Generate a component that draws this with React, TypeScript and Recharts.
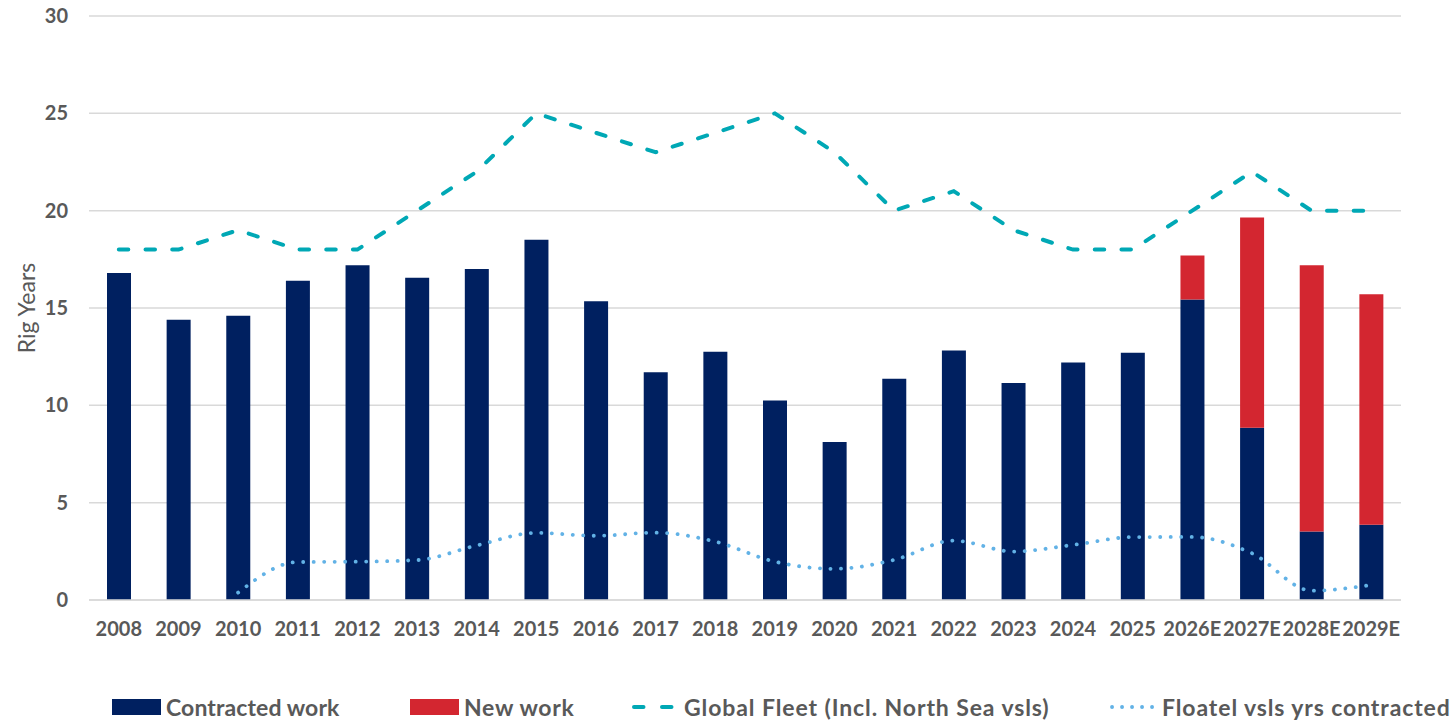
import React from 'react';
import { ComposedChart, Bar, Line, XAxis, YAxis, CartesianGrid, Legend } from 'recharts';

const categories = ['2008','2009','2010','2011','2012','2013','2014','2015','2016','2017','2018','2019','2020','2021','2022','2023','2024','2025','2026E','2027E','2028E','2029E'];
const contractedWork = [16.8,14.4,14.6,16.4,17.2,16.55,17.0,18.5,15.35,11.7,12.75,10.25,8.12,11.37,12.82,11.15,12.2,12.7,15.44,8.85,3.52,3.86];
const newWork = [0,0,0,0,0,0,0,0,0,0,0,0,0,0,0,0,0,0,2.26,10.8,13.68,11.84];
const globalFleet = [18,18,19,18,18,20,22,25,24,23,24,25,23,20,21,19,18,18,20,22,20,20];
const floatelYears: (number | null)[] = [null,null,0.38,1.95,1.97,2.05,2.8,3.45,3.3,3.46,3.0,1.97,1.6,2.06,3.05,2.49,2.83,3.23,3.24,2.4,0.48,0.77];
const yTicks = [0,5,10,15,20,25,30];

const seriesNames = ['Contracted work','New work','Global Fleet (Incl. North Sea vsls)','Floatel vsls yrs contracted'];

const NAVY = '#002060';
const RED = '#D32630';
const TEAL = '#00A8B5';
const LIGHTBLUE = '#62B2E6';
const FONT = 'Lato, "Open Sans", sans-serif';

const data = categories.map((c, i) => ({
  cat: c,
  contracted: contractedWork[i],
  newWork: newWork[i],
  fleet: globalFleet[i],
  floatel: floatelYears[i],
}));

const legendX = [112, 410, 630, 1108];
const legendSpacing = [0.1, 0.7, 0.9, 0.9];

const LegendContent = () => {
  const items = [
    { name: seriesNames[0], type: 'rect', color: NAVY },
    { name: seriesNames[1], type: 'rect', color: RED },
    { name: seriesNames[2], type: 'dash', color: TEAL },
    { name: seriesNames[3], type: 'dot', color: LIGHTBLUE },
  ];
  return (
    <div style={{ position: 'relative', height: 30, width: 1450, fontFamily: FONT, fontWeight: 700, fontSize: 23, color: '#595959' }}>
      {items.map((it, i) => (
        <div key={it.name} style={{ position: 'absolute', left: legendX[i], top: 0, height: 30, display: 'flex', alignItems: 'center' }}>
          <svg width={49} height={16} style={{ marginRight: 5, display: 'block' }}>
            {it.type === 'rect' && <rect x={0} y={0} width={49} height={16} fill={it.color} />}
            {it.type === 'dash' && <line x1={4} y1={8} x2={44} y2={8} stroke={it.color} strokeWidth={4} strokeDasharray="9.5 18.5" strokeLinecap="round" />}
            {it.type === 'dot' && <line x1={4} y1={8} x2={45} y2={8} stroke={it.color} strokeWidth={3.8} strokeDasharray="0.1 9.9" strokeLinecap="round" />}
          </svg>
          <span style={{ whiteSpace: 'nowrap', lineHeight: '30px', letterSpacing: legendSpacing[i] }}>{it.name}</span>
        </div>
      ))}
    </div>
  );
};

export default function App() {
  return (
    <div style={{ position: 'absolute', left: 0, top: 0, width: 1450, height: 721, background: '#fff' }}>
      <ComposedChart width={1450} height={721} data={data} margin={{ top: 16, right: 49, bottom: 61, left: 0 }} barSize={24}>
        <CartesianGrid vertical={false} stroke="#D9D9D9" strokeWidth={1.5} />
        <XAxis
          dataKey="cat"
          axisLine={{ stroke: '#D9D9D9', strokeWidth: 1.5 }}
          tickLine={false}
          tickMargin={16}
          interval={0}
          tick={{ fontFamily: FONT, fontSize: 20, fontWeight: 700, fill: '#595959' }}
        />
        <YAxis
          width={89}
          domain={[0, 30]}
          ticks={yTicks}
          axisLine={false}
          tickLine={false}
          tickMargin={15}
          tick={{ fontFamily: FONT, fontSize: 20, fontWeight: 700, fill: '#595959' }}
          label={{ value: 'Rig Years', angle: -90, position: 'insideLeft', offset: 27, style: { fontFamily: FONT, fontSize: 23, fill: '#595959', textAnchor: 'middle' } }}
        />
        <Legend verticalAlign="bottom" wrapperStyle={{ position: 'absolute', top: 692, left: 0, width: 1450, height: 30 }} content={<LegendContent />} />
        <Bar dataKey="contracted" name={seriesNames[0]} stackId="a" fill={NAVY} isAnimationActive={false} />
        <Bar dataKey="newWork" name={seriesNames[1]} stackId="a" fill={RED} isAnimationActive={false} />
        <Line dataKey="fleet" name={seriesNames[2]} type="linear" stroke={TEAL} strokeWidth={4} strokeDasharray="9.5 17.2" strokeLinecap="round" dot={false} activeDot={false} isAnimationActive={false} />
        <Line dataKey="floatel" name={seriesNames[3]} type="monotone" stroke={LIGHTBLUE} strokeWidth={3.8} strokeDasharray="0.1 10.4" strokeLinecap="round" dot={false} activeDot={false} isAnimationActive={false} />
      </ComposedChart>
    </div>
  );
}
